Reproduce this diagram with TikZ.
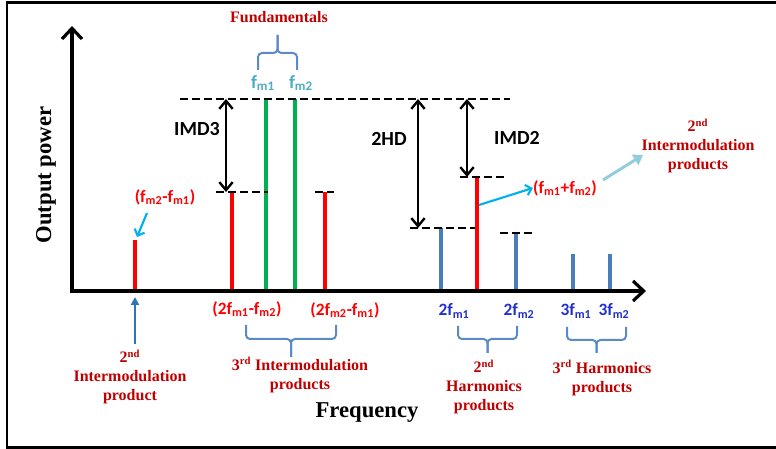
\documentclass[tikz,border=0pt]{standalone}
\usepackage{fontspec}
\setmainfont{Liberation Serif}
\newfontfamily\lblsans{Carlito}
\usetikzlibrary{arrows.meta}
\definecolor{imred}{HTML}{FF0000}
\definecolor{fundgreen}{HTML}{00B050}
\definecolor{harmblue}{HTML}{4A7EBB}
\definecolor{txtred}{HTML}{C00000}
\definecolor{fmblue}{HTML}{4BACC6}
\definecolor{hlblue}{HTML}{1F2FC8}
\definecolor{cyanarr}{HTML}{00B0F0}
\definecolor{palearr}{HTML}{92CDDC}
\definecolor{uparr}{HTML}{2E75B6}
\definecolor{bracecol}{HTML}{5B8AC6}
\newcommand{\grpbrace}[5]{%
  \draw[bracecol,line width=1.5pt,rounded corners=3pt] (#1,#3) -- (#1,#4) -- ({(#1+#2)/2},#4) -- ({(#1+#2)/2},#5);
  \draw[bracecol,line width=1.5pt,rounded corners=3pt] (#2,#3) -- (#2,#4) -- ({(#1+#2)/2},#4) -- ({(#1+#2)/2},#5);}

\begin{document}
\begin{tikzpicture}[x=0.75pt,y=-0.75pt,
  spec/.style={line width=2.8pt},
  lvl/.style={line width=1.9pt,dash pattern=on 6pt off 3pt},
  gaparr/.style={line width=1.8pt,{Straight Barb[length=6pt,width=10pt]}-{Straight Barb[length=6pt,width=10pt]}},
  axis/.style={line width=2.4pt,{Straight Barb[length=8pt,width=15pt]}-{Straight Barb[length=8pt,width=15pt]}},
  grp/.style={font=\fontsize{12}{14.25}\selectfont\bfseries,text=txtred,align=center,inner sep=0pt},
  sanslbl/.style={font=\lblsans\fontsize{13}{13}\selectfont\bfseries,inner sep=0pt},
  gaplbl/.style={font=\lblsans\fontsize{15}{15}\selectfont\bfseries,inner sep=0pt}]
  \useasboundingbox (0,0) rectangle (776,449);
  \draw[line width=1.8pt] (776,2.5) -- (7,2.5) -- (7,447.5) -- (776,447.5);
  % spectral lines
  \foreach \n/\x/\t/\c in {a/135/240/imred,b/232/192/imred,c/266/99/fundgreen,d/295/99/fundgreen,e/325/192/imred,
    f/441/228/harmblue,g/477/177/imred,h/516/233/harmblue,i/573/254/harmblue,j/610/254/harmblue}{
    \coordinate (top\n) at (\x,\t);
    \draw[spec,\c] (\x,291) -- (top\n);
  }
  \coordinate (O) at (72,291);
  \coordinate (ytip) at (72,26);
  \coordinate (xtip) at (646,291);
  \draw[axis] (ytip) -- (O) -- (xtip);
  % power levels
  \foreach \xa/\xb/\y in {180/510/99,216/268/192,315/334/192,460/508/177,410/475/228,500/532/233}
    \draw[lvl] (\xa,\y) -- (\xb,\y);
  \coordinate (imdthreeA) at (226,99);  \coordinate (imdthreeB) at (226,192);
  \coordinate (hdA) at (418,99);        \coordinate (hdB) at (418,228);
  \coordinate (imdtwoA) at (467,99);    \coordinate (imdtwoB) at (467,177);
  \draw[gaparr] (imdthreeA) -- (imdthreeB);
  \draw[gaparr] (hdA) -- (hdB);
  \draw[gaparr] (imdtwoA) -- (imdtwoB);
  \node[gaplbl] (imdthree) at (197,129) {IMD3};
  \node[gaplbl] (twohd) at (389,139) {2HD};
  \node[gaplbl] (imdtwo) at (517,138) {IMD2};
  % fundamentals
  \node[grp] (fund) at (279,17) {Fundamentals};
  \grpbrace{258}{297}{70}{53}{35}
  \node[sanslbl,font=\lblsans\fontsize{14}{14}\selectfont\bfseries,text=fmblue] (fmone) at (263,83) {f\textsubscript{m1}};
  \node[sanslbl,font=\lblsans\fontsize{14}{14}\selectfont\bfseries,text=fmblue] (fmtwo) at (301,83) {f\textsubscript{m2}};
  % second order products
  \node[sanslbl,text=imred] (fdiff) at (165,197) {(f\textsubscript{m2}-f\textsubscript{m1})};
  \node[sanslbl,text=imred] (fsum) at (565,188) {(f\textsubscript{m1}+f\textsubscript{m2})};
  \coordinate (diffA) at (147,213); \coordinate (diffB) at (137,237);
  \draw[cyanarr,line width=1.6pt,-{Straight Barb[length=4pt,width=8pt]}] (diffA) -- (diffB);
  \coordinate (sumfoot) at (479,205);
  \draw[cyanarr,line width=1.6pt,-{Straight Barb[length=4pt,width=8pt]}] (sumfoot) -- (fsum.west);
  \node[grp] (imtwoR) at (698,146) {2\textsuperscript{nd}\\Intermodulation\\products};
  \coordinate (paleA) at (603,180); \coordinate (paleB) at (643,155);
  \draw[palearr,line width=2.2pt,-{Triangle[length=7pt,width=9pt]}] (paleA) -- (paleB);
  \node[grp] (imtwoL) at (130,377) {2\textsuperscript{nd}\\Intermodulation\\product};
  \coordinate (upA) at (135,344); \coordinate (upB) at (135,297);
  \draw[uparr,line width=1.5pt,-{Triangle[length=6pt,width=6pt]}] (upA) -- (upB);
  % third order and harmonics
  \node[sanslbl,text=imred] (imthreeA) at (247,309) {(2f\textsubscript{m1}-f\textsubscript{m2})};
  \node[sanslbl,text=imred] (imthreeB) at (345,310) {(2f\textsubscript{m2}-f\textsubscript{m1})};
  \grpbrace{246}{336}{325}{339}{357}
  \node[grp] (imthree) at (300,375) {3\textsuperscript{rd} Intermodulation\\products};
  \foreach \n/\x/\k/\m in {ha/454/2/1,hb/519/2/2,hc/576/3/1,hd/614/3/2}
    \node[sanslbl,text=hlblue] (\n) at (\x,311) {\k f\textsubscript{m\m}};
  \grpbrace{458}{517}{326}{339}{353}
  \grpbrace{567}{626}{327}{340}{353}
  \node[grp] (harmtwo) at (484,387) {2\textsuperscript{nd}\\Harmonics\\products};
  \node[grp] (harmthree) at (602,378) {3\textsuperscript{rd} Harmonics\\products};
  % axis titles
  \node[font=\fontsize{17}{17}\selectfont\bfseries,inner sep=0pt] (freq) at (367,413) {Frequency};
  \node[font=\fontsize{17}{17}\selectfont\bfseries,inner sep=0pt,rotate=90] (power) at (46,175) {Output power};
\end{tikzpicture}
\end{document}
